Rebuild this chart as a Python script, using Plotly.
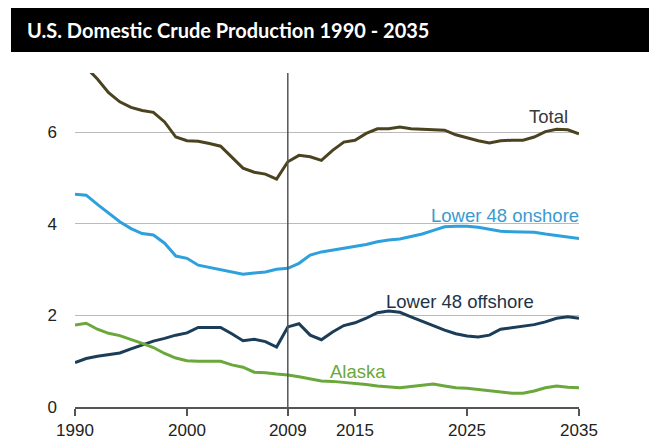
import plotly.graph_objects as go

years = list(range(1990, 2036))

total = [7.36, 7.42, 7.17, 6.87, 6.67, 6.55, 6.48, 6.44, 6.23, 5.90,
         5.82, 5.81, 5.76, 5.70, 5.46, 5.22, 5.13, 5.09, 4.98, 5.36,
         5.50, 5.47, 5.39, 5.61, 5.79, 5.83, 5.98, 6.08, 6.08, 6.12,
         6.08, 6.07, 6.06, 6.05, 5.95, 5.88, 5.82, 5.77, 5.82, 5.83,
         5.83, 5.90, 6.02, 6.07, 6.06, 5.97]

onshore = [4.65, 4.63, 4.43, 4.25, 4.05, 3.90, 3.79, 3.76, 3.58, 3.30,
           3.25, 3.10, 3.05, 2.99, 2.95, 2.90, 2.93, 2.95, 3.01, 3.03,
           3.14, 3.32, 3.39, 3.43, 3.47, 3.51, 3.55, 3.61, 3.65, 3.67,
           3.72, 3.78, 3.86, 3.94, 3.95, 3.95, 3.93, 3.88, 3.84, 3.83,
           3.83, 3.82, 3.78, 3.75, 3.71, 3.68]

offshore = [0.97, 1.06, 1.11, 1.14, 1.18, 1.27, 1.36, 1.44, 1.50, 1.57,
            1.62, 1.74, 1.74, 1.74, 1.60, 1.45, 1.48, 1.43, 1.31, 1.75,
            1.82, 1.57, 1.47, 1.64, 1.78, 1.84, 1.94, 2.06, 2.10, 2.07,
            1.97, 1.87, 1.77, 1.68, 1.60, 1.55, 1.53, 1.57, 1.70, 1.73,
            1.76, 1.80, 1.86, 1.94, 1.97, 1.94]

alaska = [1.79, 1.83, 1.70, 1.61, 1.56, 1.48, 1.39, 1.30, 1.17, 1.07,
          1.01, 1.00, 1.00, 1.00, 0.92, 0.87, 0.76, 0.75, 0.72, 0.70,
          0.66, 0.62, 0.57, 0.56, 0.54, 0.52, 0.49, 0.46, 0.44, 0.42,
          0.45, 0.48, 0.50, 0.46, 0.42, 0.41, 0.38, 0.36, 0.33, 0.30,
          0.30, 0.35, 0.42, 0.46, 0.43, 0.42]

x_ticks = [1990, 2000, 2009, 2015, 2025, 2035]
y_ticks = [0, 2, 4, 6]

series = [
    ("Total", total, "#4b4320"),
    ("Lower 48 onshore", onshore, "#2ea1dc"),
    ("Lower 48 offshore", offshore, "#1c3d57"),
    ("Alaska", alaska, "#6aa83c"),
]

labels = [
    ("Total", 2032.3, 6.34, "#3a3a3a"),
    ("Lower 48 onshore", 2028.4, 4.18, "#3a9ad0"),
    ("Lower 48 offshore", 2024.4, 2.30, "#1e3346"),
    ("Alaska", 2015.3, 0.78, "#6aa83c"),
]

fig = go.Figure()
for name, vals, color in series:
    fig.add_trace(go.Scatter(x=years, y=vals, mode="lines", name=name,
                             line=dict(color=color, width=3), cliponaxis=True))

for text, lx, ly, color in labels:
    fig.add_annotation(x=lx, y=ly, xref="x", yref="y", text=text, showarrow=False,
                       font=dict(family="Liberation Sans, Arial", size=18.5, color=color))

fig.add_shape(type="line", x0=2009, x1=2009, y0=0, y1=1, xref="x", yref="paper",
              line=dict(color="#555555", width=1.5))

# Title bar
fig.add_shape(type="rect", xref="paper", yref="paper", x0=-0.127, x1=1.3,
              y0=1.063, y1=1.25, fillcolor="black", line=dict(width=0), layer="above")
fig.add_annotation(xref="paper", yref="paper", x=-0.099, y=1.129, xanchor="left",
                   yanchor="middle", showarrow=False,
                   text="<b>U.S. Domestic Crude Production 1990 - 2035</b>",
                   font=dict(family="Lato", size=20, color="white"))

fig.update_layout(
    width=657, height=433,
    margin=dict(l=67, r=86, t=65, b=34),
    paper_bgcolor="white", plot_bgcolor="white",
    showlegend=False,
    xaxis=dict(range=[1990, 2035], tickvals=x_ticks, ticktext=[str(t) for t in x_ticks],
               showgrid=False, zeroline=False, showline=True, linecolor="#555555",
               linewidth=1.5, ticks="outside", ticklen=7, tickcolor="#555555",
               tickwidth=1.5, automargin=False,
               tickfont=dict(family="Liberation Sans, Arial", size=17, color="#222222")),
    yaxis=dict(range=[0, 7.3], tickvals=y_ticks, showgrid=True, gridcolor="#bbbbbb",
               gridwidth=1.2, zeroline=False, showline=False, ticks="",
               ticklabelstandoff=17, automargin=False,
               tickfont=dict(family="Liberation Sans, Arial", size=17, color="#222222")),
)

fig.write_html("out.html")
